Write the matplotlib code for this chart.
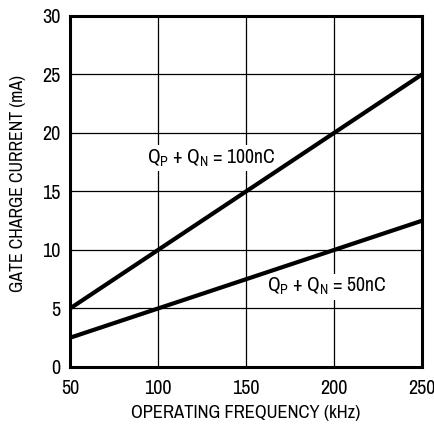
import matplotlib as mpl

mpl.use("Agg")

import matplotlib.pyplot as plt

# operating frequency (kHz) and gate charge current (mA)
freq_khz = [50, 100, 150, 200, 250]
current_100nc = [5.0, 10.0, 15.0, 20.0, 25.0]
current_50nc = [2.5, 5.0, 7.5, 10.0, 12.5]

x_ticks = [50, 100, 150, 200, 250]
y_ticks = [0, 5, 10, 15, 20, 25, 30]

label_100 = r"Q$_\mathrm{P}$ + Q$_\mathrm{N}$ = 100nC"
label_50 = r"Q$_\mathrm{P}$ + Q$_\mathrm{N}$ = 50nC"

FAMILY = "Archivo Narrow"

mpl.rcParams.update(
    {
        "font.family": [FAMILY, "Roboto Condensed", "DejaVu Sans"],
        "mathtext.fontset": "custom",
        "mathtext.rm": FAMILY,
        "mathtext.it": FAMILY,
        "mathtext.bf": FAMILY,
    }
)

fig = plt.figure(figsize=(4.35, 4.26), dpi=100)
ax = fig.add_axes([0.161, 0.1385, 0.809, 0.824])

ax.plot(freq_khz, current_100nc, color="black", lw=3.0, solid_capstyle="butt", zorder=3)
ax.plot(freq_khz, current_50nc, color="black", lw=3.0, solid_capstyle="butt", zorder=3)

ax.set_xlim(50, 250)
ax.set_ylim(0, 30)
ax.set_xticks(x_ticks)
ax.set_yticks(y_ticks)
ax.grid(True, color="black", lw=0.9)
ax.tick_params(length=0, labelsize=14.5)
ax.tick_params(axis="x", pad=9)
ax.tick_params(axis="y", pad=7)
for s in ax.spines.values():
    s.set_linewidth(2.2)

ax.set_xlabel("OPERATING FREQUENCY (kHz)", fontsize=13.4, labelpad=5)
ax.set_ylabel("GATE CHARGE CURRENT (mA)", fontsize=12.8)
ax.yaxis.set_label_coords(-0.124, 0.524)

# labels sit above the grid but under the data lines
bbox = dict(facecolor="white", edgecolor="none", pad=1.5)
ax.text(130, 17.85, label_100, fontsize=14.2, ha="center", va="center", bbox=bbox, zorder=2)
ax.text(196, 6.85, label_50, fontsize=14.2, ha="center", va="center", bbox=bbox, zorder=2)

fig.savefig("out.png", dpi=100)
